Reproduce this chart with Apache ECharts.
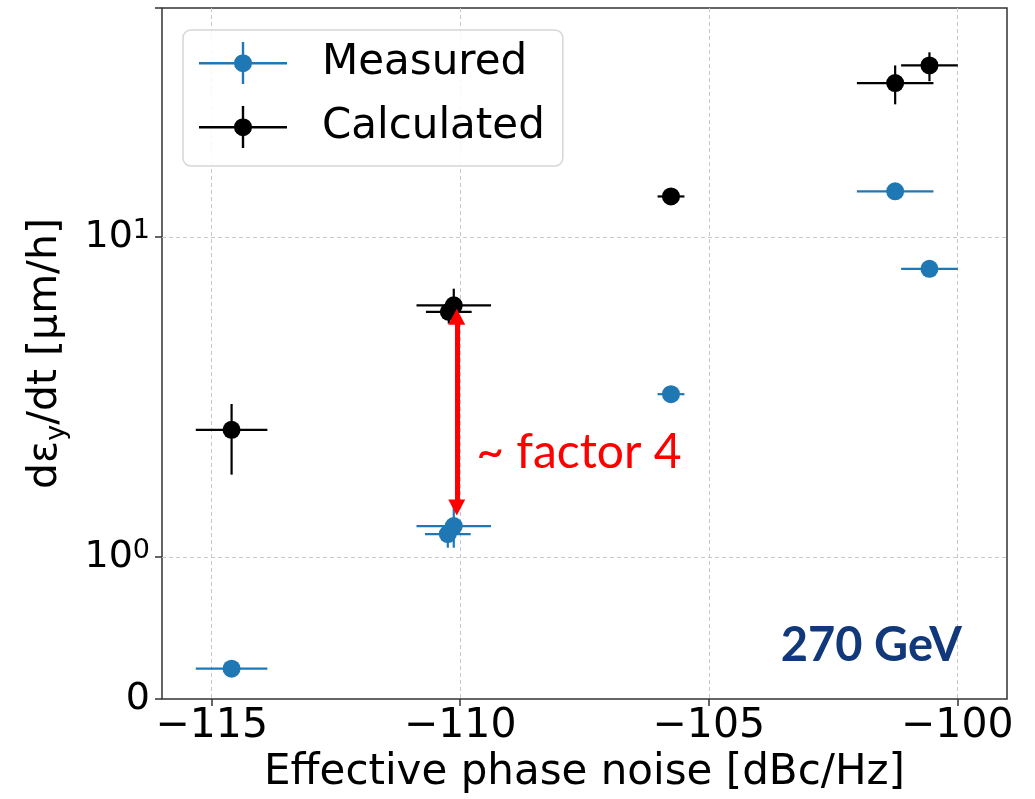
<!DOCTYPE html>
<html>
<head>
<meta charset="utf-8">
<script src="https://cdn.jsdelivr.net/npm/echarts@6/dist/echarts.min.js"></script>
<style>
html,body{margin:0;padding:0;background:#fff;}
#chart{width:1035px;height:799px;}
</style>
</head>
<body>
<div id="chart"></div>
<script>
// ---- data ----
const xTicks = [-115, -110, -105, -100];

const measX     = [-114.6, -110.13, -110.25, -105.76, -101.25, -100.56];
const measY     = [0.448, 1.25, 1.18, 3.23, 13.9, 7.96];
const measXErr  = [0.72, 0.75, 0.46, 0.27, 0.77, 0.57];
const measYLow  = [0.448, 1.07, 1.07, 3.23, 13.9, 7.96];
const measYHigh = [0.448, 1.46, 1.29, 3.23, 13.9, 7.96];

const calcX     = [-114.6, -110.13, -110.23, -105.76, -101.25, -100.56];
const calcY     = [2.50, 6.12, 5.84, 13.4, 30.3, 34.4];
const calcXErr  = [0.72, 0.75, 0.46, 0.27, 0.77, 0.57];
const calcYLow  = [1.81, 5.4, 5.37, 13.4, 26.0, 30.7];
const calcYHigh = [3.01, 6.9, 6.3, 13.4, 34.4, 37.8];

const arrowX = -110.07, arrowTop = 5.64, arrowBottom = 1.43;
const factorText = ['~ factor 4', -109.68, 2.12];
const energyText = ['270 GeV', -103.55, 0.528];

const BLUE = '#1f77b4';
const FONT = 'DejaVu Sans';

function buildErr(xs, ys, xe, yl, yh) {
  return xs.map((x, i) => [x, ys[i], x - xe[i], x + xe[i], yl[i], yh[i]]);
}
function buildPts(xs, ys) { return xs.map((x, i) => [x, ys[i]]); }

function errRender(color) {
  return function (params, api) {
    const c = api.coord([api.value(0), api.value(1)]);
    const l = api.coord([api.value(2), api.value(1)]);
    const r = api.coord([api.value(3), api.value(1)]);
    const lo = api.coord([api.value(0), api.value(4)]);
    const hi = api.coord([api.value(0), api.value(5)]);
    const st = { stroke: color, lineWidth: 2.2 };
    return {
      type: 'group',
      children: [
        { type: 'line', shape: { x1: l[0], y1: c[1], x2: r[0], y2: c[1] }, style: st },
        { type: 'line', shape: { x1: c[0], y1: lo[1], x2: c[0], y2: hi[1] }, style: st }
      ]
    };
  };
}

const legendIcon = 'path://M0,20 L88,20 L88,22.4 L0,22.4 Z M42.8,0 L45.2,0 L45.2,42 L42.8,42 Z M35,21.2 A9,9 0 1,1 53,21.2 A9,9 0 1,1 35,21.2 Z';

const chart = echarts.init(document.getElementById('chart'), null, { renderer: 'canvas' });
chart.setOption({
  animation: false,
  backgroundColor: '#fff',
  grid: { left: 162, right: 28, top: 8, bottom: 95, show: true, borderColor: '#333', borderWidth: 1.5, backgroundColor: 'transparent' },
  legend: {
    data: ['Measured', 'Calculated'],
    left: 183, top: 30, orient: 'vertical',
    itemWidth: 88, itemHeight: 42, itemGap: 22,
    padding: [12, 18, 18, 16],
    backgroundColor: 'rgba(255,255,255,0.85)',
    borderColor: '#d6d6d6', borderWidth: 1.5, borderRadius: 8,
    icon: legendIcon,
    itemStyle: { opacity: 1 },
    textStyle: { fontFamily: FONT, fontSize: 42, color: '#000', padding: [0, 0, 0, 30] }
  },
  xAxis: {
    type: 'value', min: -116, max: -99,
    axisLine: { show: false },
    axisTick: { show: true, length: 7, lineStyle: { color: '#333', width: 1.5 }, customValues: xTicks },
    axisLabel: {
      customValues: xTicks, fontFamily: FONT, fontSize: 41, color: '#000', margin: 7,
      formatter: v => (v < 0 ? '\u2212' + Math.abs(v) : '' + v)
    },
    splitLine: { show: true, lineStyle: { color: '#c8c8c8', type: [4, 3], width: 1 } },
    name: 'Effective phase noise [dBc/Hz]', nameLocation: 'middle', nameGap: 47,
    nameTextStyle: { fontFamily: FONT, fontSize: 42, color: '#000' }
  },
  yAxis: {
    type: 'log', logBase: 10, min: 0.36, max: 52,
    axisLine: { show: false },
    axisTick: { show: true, length: 7, lineStyle: { color: '#333', width: 1.5 } },
    axisLabel: {
      fontFamily: FONT, fontSize: 38, color: '#000', margin: 12,
      showMaxLabel: true, showMinLabel: true,
      formatter: function (v) {
        if (v < 0.5) return '0';
        if (Math.abs(v - 1) < 1e-6) return '10{sup|0}';
        if (Math.abs(v - 10) < 1e-6) return '10{sup|1}';
        return '';
      },
      rich: { sup: { fontFamily: FONT, fontSize: 27, color: '#000', verticalAlign: 'top', lineHeight: 40, padding: [0, 0, 16, 0] } }
    },
    splitLine: { show: true, showMinLine: false, showMaxLine: false, lineStyle: { color: '#c8c8c8', type: [4, 3], width: 1 } },
    name: 'd\u03b5{sub|y}/dt [\u03bcm/h]', nameLocation: 'middle', nameGap: 92, nameRotate: 90,
    nameTextStyle: {
      fontFamily: FONT, fontSize: 41, color: '#000', lineHeight: 50,
      rich: { sub: { fontFamily: FONT, fontSize: 27, color: '#000', lineHeight: 50, verticalAlign: 'bottom' } }
    }
  },
  series: [
    {
      name: 'Measured err', type: 'custom', z: 2, silent: true,
      renderItem: errRender(BLUE), encode: { x: 0, y: 1 },
      data: buildErr(measX, measY, measXErr, measYLow, measYHigh)
    },
    {
      name: 'Measured', type: 'scatter', z: 3, symbol: 'circle', symbolSize: 18,
      itemStyle: { color: BLUE, opacity: 1 }, data: buildPts(measX, measY)
    },
    {
      name: 'Calculated err', type: 'custom', z: 4, silent: true,
      renderItem: errRender('#000'), encode: { x: 0, y: 1 },
      data: buildErr(calcX, calcY, calcXErr, calcYLow, calcYHigh)
    },
    {
      name: 'Calculated', type: 'scatter', z: 5, symbol: 'circle', symbolSize: 18,
      itemStyle: { color: '#000', opacity: 1 }, data: buildPts(calcX, calcY),
      markLine: {
        silent: true, z: 6,
        symbol: ['triangle', 'triangle'], symbolSize: [17, 16],
        lineStyle: { color: '#ff0000', width: 5, type: 'solid', opacity: 1 },
        itemStyle: { color: '#ff0000' },
        label: { show: false },
        data: [[{ coord: [arrowX, arrowTop] }, { coord: [arrowX, arrowBottom] }]]
      },
      markPoint: {
        silent: true, symbol: 'circle', symbolSize: 0,
        data: [
          {
            coord: [factorText[1], factorText[2]], value: factorText[0],
            label: { show: true, position: 'inside', align: 'left', verticalAlign: 'middle', formatter: factorText[0],
              fontFamily: 'Lato', fontSize: 48, color: '#ff0000' }
          },
          {
            coord: [energyText[1], energyText[2]], value: energyText[0],
            label: { show: true, position: 'inside', align: 'left', verticalAlign: 'middle', formatter: energyText[0],
              fontFamily: 'Lato', fontWeight: 'bold', fontSize: 47, color: '#10387a' }
          }
        ]
      }
    }
  ]
});
</script>
</body>
</html>
